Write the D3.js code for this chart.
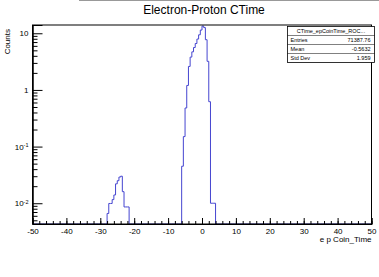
<!DOCTYPE html>
<html>
<head>
<meta charset="utf-8">
<script src="https://cdn.jsdelivr.net/npm/d3@7"></script>
<style>
  body { margin: 0; background: #fff; }
  text { font-family: "Liberation Sans", Arial, sans-serif; }
</style>
</head>
<body>
<div id="chart"></div>
<script>
// histogram data: lower bin edges (width 0.5) and counts, empty bins are zero
var binWidth = 0.5;
var binLow = [-28, -27.5, -27, -26.5, -26, -25.5, -25, -24.5, -24, -23.5, -23, -22.5, -22,
              -6, -5.5, -5, -4.5, -4, -3.5, -3, -2.5, -2, -1.5, -1, -0.5, 0, 0.5, 1, 1.5, 2, 2.5, 3, 3.5];
var counts = [0.0066, 0.0099, 0.0099, 0.0116, 0.014, 0.022, 0.025, 0.029, 0.030, 0.016, 0.0086, 0.0086, 0.0086,
              0.045, 0.15, 0.48, 1.2, 2.6, 3.8, 4.7, 5.6, 6.6, 7.9, 9.4, 11.4, 13.4, 12.6, 7.7, 3.2, 0.62, 0.01, 0.01, 0.01];
var xTicks = [-50, -40, -30, -20, -10, 0, 10, 20, 30, 40, 50];
var yTicks = [0.01, 0.1, 1, 10];
var yTickLabels = [["10", "-2"], ["10", "-1"], ["1", ""], ["10", ""]];
var statNames = ["Entries", "Mean", "Std Dev"];
var statValues = ["71387.76", "-0.5632", "1.959"];

var W = 379, H = 277;
var frameL = 32.5, frameR = 371.5, frameT = 25, frameB = 224;

var svg = d3.select("#chart").append("svg")
  .attr("width", W).attr("height", H);

var x = d3.scaleLinear().domain([-50, 50]).range([frameL, frameR]);
var y = d3.scaleLog().domain([0.0043, 14]).range([frameB, frameT]);

// title
svg.append("line")
  .attr("x1", 79).attr("x2", W).attr("y1", 0.5).attr("y2", 0.5)
  .attr("stroke", "#999");
svg.append("text")
  .attr("x", 204).attr("y", 14)
  .attr("text-anchor", "middle")
  .style("font-size", "12px")
  .text("Electron-Proton CTime");

// histogram outline (empty bins sit on the bottom of the frame)
var byLow = new Map(binLow.map(function(b, i) { return [b, counts[i]]; }));
var bins = d3.range(200).map(function(i) {
  var lo = -50 + i * binWidth;
  return { lo: lo, c: byLow.get(lo) || 0 };
});
bins.push({ lo: 50, c: bins[bins.length - 1].c });

svg.append("clipPath").attr("id", "frame")
  .append("rect").attr("x", frameL).attr("y", frameT)
  .attr("width", frameR - frameL).attr("height", frameB - frameT);

var line = d3.line()
  .x(function(d) { return x(d.lo); })
  .y(function(d) { return d.c > 0 ? y(d.c) : frameB; })
  .curve(d3.curveStepAfter);

svg.append("path")
  .datum(bins)
  .attr("clip-path", "url(#frame)")
  .attr("d", line)
  .attr("fill", "none")
  .attr("stroke", "#4545d0")
  .attr("stroke-width", 1);

// X axis
var xMajor = svg.append("g")
  .attr("transform", "translate(0," + frameB + ")")
  .call(d3.axisBottom(x).tickValues(xTicks).tickSize(-6).tickPadding(4)
    .tickFormat(function(d) { return String(d); }));
svg.append("g")
  .attr("transform", "translate(0," + frameB + ")")
  .call(d3.axisBottom(x).tickValues(d3.range(-48, 50, 2)).tickSize(-3).tickFormat(""));
xMajor.selectAll("text").style("font-size", "8px").attr("fill", "#000");

// Y axis
var yMinor = [];
[0.001, 0.01, 0.1, 1, 10].forEach(function(dec) {
  [2, 3, 4, 5, 6, 7, 8, 9].forEach(function(m) {
    var v = dec * m;
    if (v >= 0.0043 && v <= 14) yMinor.push(v);
  });
});
svg.append("g")
  .attr("transform", "translate(" + frameL + ",0)")
  .call(d3.axisLeft(y).tickValues(yMinor).tickSize(-5).tickFormat(""));
var yMajor = svg.append("g")
  .attr("transform", "translate(" + frameL + ",0)")
  .call(d3.axisLeft(y).tickValues(yTicks).tickSize(-10).tickPadding(4).tickFormat(""));
yMajor.selectAll(".tick text").each(function(d, i) {
  var t = d3.select(this).style("font-size", "8px").attr("fill", "#000");
  t.append("tspan").text(yTickLabels[i][0]);
  if (yTickLabels[i][1]) {
    t.append("tspan").attr("dy", "-0.5em").style("font-size", "5.5px").text(yTickLabels[i][1]);
  }
});

svg.selectAll(".domain, .tick line").attr("stroke", "#000").attr("stroke-width", 1);

// frame
svg.append("rect")
  .attr("x", frameL).attr("y", frameT)
  .attr("width", frameR - frameL).attr("height", frameB - frameT)
  .attr("fill", "none").attr("stroke", "#000").attr("stroke-width", 1);

// axis titles
svg.append("text")
  .attr("x", frameR).attr("y", 242)
  .attr("text-anchor", "end")
  .style("font-size", "8px")
  .text("e p Coin_Time");
svg.append("text")
  .attr("transform", "translate(10,29) rotate(-90)")
  .attr("text-anchor", "end")
  .style("font-size", "8px")
  .text("Counts");

// stats box
var sx = 287.5, sw = 87, sy = 26.5, rowH = 9;
var stats = svg.append("g");
stats.append("rect")
  .attr("x", sx).attr("y", sy).attr("width", sw).attr("height", rowH * 4)
  .attr("fill", "#fff").attr("stroke", "#000").attr("stroke-width", 0.8);
stats.append("text")
  .attr("x", sx + sw / 2).attr("y", sy + 6.5)
  .attr("text-anchor", "middle")
  .style("font-size", "5.5px")
  .text("CTime_epCoinTime_ROC...");
statNames.forEach(function(n, i) {
  var ry = sy + rowH * (i + 1);
  stats.append("line")
    .attr("x1", sx).attr("x2", sx + sw).attr("y1", ry).attr("y2", ry)
    .attr("stroke", "#000").attr("stroke-width", 0.5);
  stats.append("text")
    .attr("x", sx + 3).attr("y", ry + 6.3)
    .style("font-size", "5.5px")
    .text(n);
  stats.append("text")
    .attr("x", sx + sw - 4).attr("y", ry + 6.3)
    .attr("text-anchor", "end")
    .style("font-size", "5.5px")
    .text(statValues[i]);
});
</script>
</body>
</html>
